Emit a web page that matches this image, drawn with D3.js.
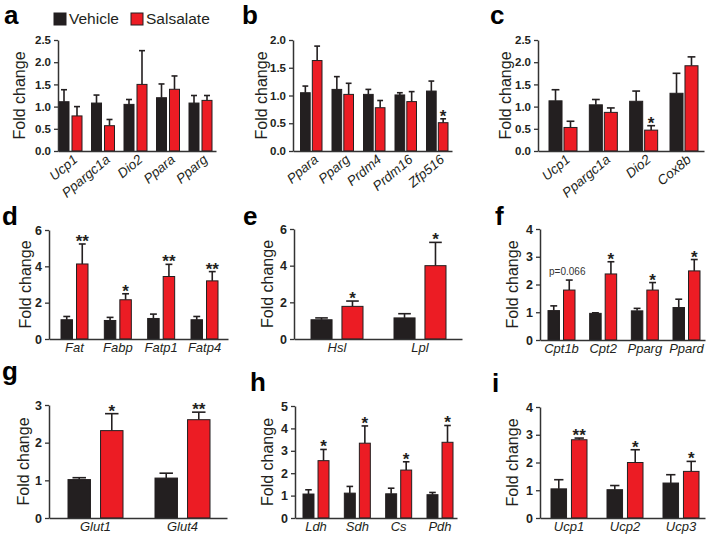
<!DOCTYPE html>
<html><head><meta charset="utf-8">
<script src="https://cdn.jsdelivr.net/npm/d3@7"></script>
<style>
body{margin:0;background:#fff}
svg{display:block}
text{font-family:"Liberation Sans",Arial,Helvetica,sans-serif}
</style>
</head><body>
<svg id="chart" width="711" height="538"></svg>
<script>
// ---------- DATA ----------
const seriesNames = ["Vehicle", "Salsalate"];

const aGenes = ["Ucp1", "Ppargc1a", "Dio2", "Ppara", "Pparg"];
const aVehicle = [1.11, 1.08, 1.05, 1.20, 1.08];
const aVehicleSem = [0.27, 0.18, 0.11, 0.31, 0.17];
const aSalsalate = [0.79, 0.57, 1.50, 1.39, 1.14];
const aSalsalateSem = [0.21, 0.14, 0.76, 0.30, 0.11];
const aStars = ["", "", "", "", ""];
const aTicks = [0, 0.5, 1.0, 1.5, 2.0, 2.5];

const bGenes = ["Ppara", "Pparg", "Prdm4", "Prdm16", "Zfp516"];
const bVehicle = [1.05, 1.11, 1.02, 1.01, 1.08];
const bVehicleSem = [0.12, 0.23, 0.09, 0.04, 0.18];
const bSalsalate = [1.63, 1.02, 0.78, 0.89, 0.51];
const bSalsalateSem = [0.26, 0.20, 0.13, 0.18, 0.07];
const bStars = ["", "", "", "", "*"];
const bTicks = [0, 0.5, 1.0, 1.5, 2.0];

const cGenes = ["Ucp1", "Ppargc1a", "Dio2", "Cox8b"];
const cVehicle = [1.13, 1.04, 1.12, 1.30];
const cVehicleSem = [0.25, 0.12, 0.23, 0.45];
const cSalsalate = [0.53, 0.87, 0.47, 1.92];
const cSalsalateSem = [0.14, 0.10, 0.10, 0.20];
const cStars = ["", "", "*", ""];
const cTicks = [0, 0.5, 1.0, 1.5, 2.0, 2.5];

const dGenes = ["Fat", "Fabp", "Fatp1", "Fatp4"];
const dVehicle = [1.06, 1.02, 1.13, 1.06];
const dVehicleSem = [0.18, 0.17, 0.24, 0.18];
const dSalsalate = [4.13, 2.16, 3.44, 3.20];
const dSalsalateSem = [1.10, 0.33, 0.67, 0.51];
const dStars = ["**", "*", "**", "**"];
const dTicks = [0, 2, 4, 6];

const eGenes = ["Hsl", "Lpl"];
const eVehicle = [1.05, 1.15];
const eVehicleSem = [0.10, 0.23];
const eSalsalate = [1.78, 4.00];
const eSalsalateSem = [0.29, 1.27];
const eStars = ["*", "*"];
const eTicks = [0, 2, 4, 6];

const fGenes = ["Cpt1b", "Cpt2", "Pparg", "Ppard"];
const fVehicle = [1.06, 0.96, 1.05, 1.17];
const fVehicleSem = [0.17, 0.02, 0.09, 0.30];
const fSalsalate = [1.80, 2.38, 1.80, 2.49];
const fSalsalateSem = [0.36, 0.44, 0.27, 0.41];
const fStars = ["", "*", "*", "*"];
const fNotes = ["p=0.066", "", "", ""];
const fTicks = [0, 1, 2, 3, 4];

const gGenes = ["Glut1", "Glut4"];
const gVehicle = [1.02, 1.06];
const gVehicleSem = [0.05, 0.13];
const gSalsalate = [2.32, 2.61];
const gSalsalateSem = [0.45, 0.20];
const gStars = ["*", "**"];
const gTicks = [0, 1, 2, 3];

const hGenes = ["Ldh", "Sdh", "Cs", "Pdh"];
const hVehicle = [1.07, 1.11, 1.08, 1.04];
const hVehicleSem = [0.19, 0.30, 0.25, 0.10];
const hSalsalate = [2.56, 3.34, 2.14, 3.38];
const hSalsalateSem = [0.50, 0.77, 0.37, 0.75];
const hStars = ["*", "*", "*", "*"];
const hTicks = [0, 1, 2, 3, 4, 5];

const iGenes = ["Ucp1", "Ucp2", "Ucp3"];
const iVehicle = [1.05, 1.02, 1.26];
const iVehicleSem = [0.33, 0.15, 0.30];
const iSalsalate = [2.82, 2.00, 1.68];
const iSalsalateSem = [0.06, 0.46, 0.36];
const iStars = ["**", "*", "*"];
const iTicks = [0, 1, 2, 3, 4];

const yTitle = "Fold change";

// ---------- LAYOUT ----------
const COLORS = {Vehicle: "#231f20", Salsalate: "#ec1c24"};
const AXIS = "#333";

const panels = [
  {letter:"a", genes:aGenes, v:aVehicle, vs:aVehicleSem, s:aSalsalate, ss:aSalsalateSem, stars:aStars, ticks:aTicks, fmt:".1f",
   L:58, R:216, top:40, bottom:151, s1:59, eN:212, bw:23, q:0.23, rot:true, lx:4, ly:24, tx:19},
  {letter:"b", genes:bGenes, v:bVehicle, vs:bVehicleSem, s:bSalsalate, ss:bSalsalateSem, stars:bStars, ticks:bTicks, fmt:".1f",
   L:293, R:452, top:40, bottom:151, s1:300.5, eN:448, bw:21.5, q:0.18, rot:true, lx:242, ly:24, tx:261},
  {letter:"c", genes:cGenes, v:cVehicle, vs:cVehicleSem, s:cSalsalate, ss:cSalsalateSem, stars:cStars, ticks:cTicks, fmt:".1f",
   L:538, R:704, top:40, bottom:151, s1:549, eN:698, bw:28, q:0.13, rot:true, lx:490, ly:24, tx:505},
  {letter:"d", genes:dGenes, v:dVehicle, vs:dVehicleSem, s:dSalsalate, ss:dSalsalateSem, stars:dStars, ticks:dTicks, fmt:"d",
   L:49, R:228, top:230, bottom:339, s1:61, eN:218, bw:27, q:0.26, rot:false, lx:2, ly:225, tx:25},
  {letter:"e", genes:eGenes, v:eVehicle, vs:eVehicleSem, s:eSalsalate, ss:eSalsalateSem, stars:eStars, ticks:eTicks, fmt:"d",
   L:294, R:462, top:229, bottom:339, s1:311, eN:446, bw:52, q:0.32, rot:false, lx:243, ly:225, tx:267},
  {letter:"f", genes:fGenes, v:fVehicle, vs:fVehicleSem, s:fSalsalate, ss:fSalsalateSem, stars:fStars, notes:fNotes, ticks:fTicks, fmt:"d",
   L:540, R:705, top:229, bottom:340, s1:548, eN:700, bw:27, q:0.26, rot:false, lx:495, ly:225, tx:512},
  {letter:"g", genes:gGenes, v:gVehicle, vs:gVehicleSem, s:gSalsalate, ss:gSalsalateSem, stars:gStars, ticks:gTicks, fmt:"d",
   L:49, R:227, top:405, bottom:518, s1:68, eN:210, bw:55, q:0.31, rot:false, lx:2, ly:380, tx:23},
  {letter:"h", genes:hGenes, v:hVehicle, vs:hVehicleSem, s:hSalsalate, ss:hSalsalateSem, stars:hStars, ticks:hTicks, fmt:"d",
   L:295, R:457, top:406, bottom:518, s1:303, eN:453, bw:26, q:0.27, rot:false, lx:250, ly:391, tx:267},
  {letter:"i", genes:iGenes, v:iVehicle, vs:iVehicleSem, s:iSalsalate, ss:iSalsalateSem, stars:iStars, ticks:iTicks, fmt:"d",
   L:540, R:705, top:407, bottom:518, s1:551, eN:699, bw:36, q:0.24, rot:false, lx:492, ly:392, tx:512}
];

const svg = d3.select("#chart");

function drawPanel(p) {
  const g = svg.append("g").attr("class", "panel-" + p.letter);
  const y = d3.scaleLinear().domain([0, d3.max(p.ticks)]).range([p.bottom, p.top]);
  const n = p.genes.length;
  const step = (p.eN - p.s1 - p.bw) / (n - 1);
  const pin = 1 - p.bw / step;
  const po = ((p.R - p.L) / step - n + pin) / 2;
  const align = (p.s1 - p.L) / ((p.R - p.L) - step * (n - pin));
  const x = d3.scaleBand().domain(p.genes).range([p.L, p.R])
    .paddingInner(pin).paddingOuter(po).align(align);
  const xs = d3.scaleBand().domain(seriesNames).range([0, x.bandwidth()]).paddingInner(p.q);

  const rows = [];
  p.genes.forEach((gene, i) => {
    rows.push({gene, series:"Vehicle", mean:p.v[i], sem:p.vs[i], star:"", note:""});
    rows.push({gene, series:"Salsalate", mean:p.s[i], sem:p.ss[i], star:p.stars[i], note:p.notes ? p.notes[i] : ""});
  });
  const bx = d => x(d.gene) + xs(d.series);
  const bc = d => bx(d) + xs.bandwidth() / 2;
  const capW = xs.bandwidth() * 0.6;

  // error bars (drawn under bars)
  const eb = g.append("g").selectAll("g").data(rows).join("g");
  eb.append("line").attr("x1", bc).attr("x2", bc)
    .attr("y1", d => y(d.mean)).attr("y2", d => y(d.mean + d.sem))
    .attr("stroke", "#231f20").attr("stroke-width", 1.6);
  eb.append("line").attr("x1", d => bc(d) - capW / 2).attr("x2", d => bc(d) + capW / 2)
    .attr("y1", d => y(d.mean + d.sem)).attr("y2", d => y(d.mean + d.sem))
    .attr("stroke", "#231f20").attr("stroke-width", 1.6);

  // bars
  g.append("g").selectAll("rect").data(rows).join("rect")
    .attr("x", bx).attr("width", xs.bandwidth())
    .attr("y", d => y(d.mean)).attr("height", d => y(0) - y(d.mean))
    .attr("fill", d => COLORS[d.series])
    .attr("stroke", "#231f20").attr("stroke-width", 1);

  // stars
  g.append("g").selectAll("text").data(rows.filter(d => d.star)).join("text")
    .attr("x", bc).attr("y", d => y(d.mean + d.sem) + 3)
    .attr("text-anchor", "middle").attr("font-size", 17).attr("font-weight", "bold")
    .attr("fill", "#231f20").text(d => d.star);
  // notes
  g.append("g").selectAll("text").data(rows.filter(d => d.note)).join("text")
    .attr("x", d => bc(d) - 2).attr("y", d => y(d.mean + d.sem) - 5)
    .attr("text-anchor", "middle").attr("font-size", 10)
    .attr("fill", "#333").text(d => d.note);

  // y axis
  const ya = g.append("g").attr("transform", `translate(${p.L},0)`)
    .call(d3.axisLeft(y).tickValues(p.ticks).tickSize(4).tickSizeOuter(0).tickPadding(3)
      .tickFormat(d3.format(p.fmt)));
  ya.select(".domain").attr("stroke", AXIS).attr("stroke-width", 1.5);
  ya.selectAll(".tick line").attr("stroke", AXIS).attr("stroke-width", 1.3);
  ya.selectAll(".tick text").attr("font-size", p.rot ? 11.5 : 12.5).attr("font-weight", "bold")
    .attr("fill", "#231f20").attr("font-family", '"Liberation Sans",Arial,sans-serif');

  // x axis
  const xa = g.append("g").attr("transform", `translate(0,${p.bottom})`)
    .call(d3.axisBottom(x).tickSize(0).tickSizeOuter(0).tickPadding(4));
  xa.select(".domain").attr("stroke", AXIS).attr("stroke-width", 1.5);
  const xt = xa.selectAll(".tick text").attr("font-style", "italic").attr("fill", "#231f20")
    .attr("font-family", '"Liberation Sans",Arial,sans-serif');
  if (p.rot) {
    xt.attr("font-size", 13.5).attr("x", 0).attr("y", 0).attr("dy", 0)
      .attr("text-anchor", "end").attr("transform", "translate(8,10) rotate(-40)");
  } else {
    xt.attr("font-size", 13);
  }

  // y title
  g.append("text").attr("transform", `translate(${p.tx},${(p.top + p.bottom) / 2}) rotate(-90)`)
    .attr("text-anchor", "middle").attr("dominant-baseline", "central")
    .attr("font-size", 16).attr("fill", "#231f20").text(yTitle);

  // panel letter
  g.append("text").attr("x", p.lx).attr("y", p.ly)
    .attr("font-size", 26).attr("font-weight", "bold").attr("fill", "#000").text(p.letter);
}

panels.forEach(drawPanel);

// legend
const legendX = [54, 131];
const leg = svg.append("g").selectAll("g").data(seriesNames).join("g")
  .attr("transform", (d, i) => `translate(${legendX[i]},13)`);
leg.append("rect").attr("width", 12).attr("height", 12)
  .attr("fill", d => COLORS[d]).attr("stroke", "#231f20").attr("stroke-width", 1);
leg.append("text").attr("x", 15).attr("y", 11).attr("font-size", 15.5)
  .attr("fill", "#231f20").text(d => d);
</script>
</body></html>
